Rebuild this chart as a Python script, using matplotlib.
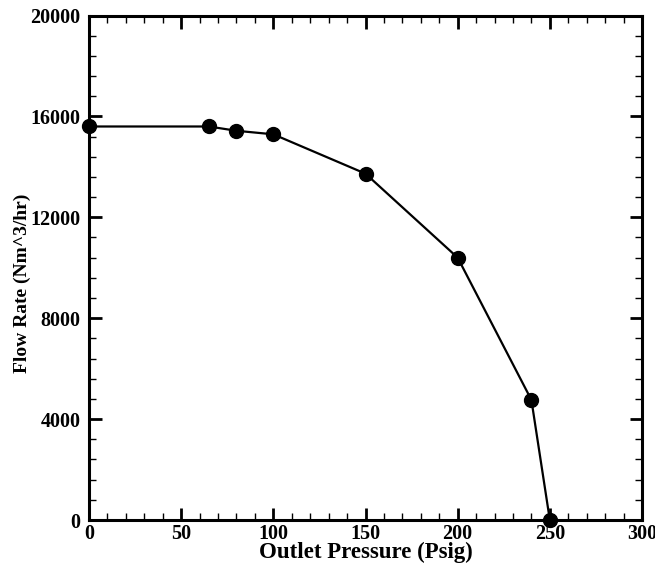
import matplotlib.pyplot as plt
from matplotlib.ticker import MultipleLocator

# Data
pressure = [0, 65, 80, 100, 150, 200, 240, 250]
flow_rate = [15600, 15600, 15430, 15290, 13730, 10400, 4760, 0]

x_ticks = [0, 50, 100, 150, 200, 250, 300]
y_ticks = [0, 4000, 8000, 12000, 16000, 20000]

plt.rcParams['font.family'] = ['Liberation Serif', 'DejaVu Serif']
plt.rcParams['font.weight'] = 'bold'

fig = plt.figure(figsize=(6.55, 5.68), dpi=100)
ax = fig.add_axes([89 / 655, 1 - 520 / 568, (642 - 89) / 655, (520 - 15.5) / 568])

ax.plot(pressure, flow_rate, color='black', linewidth=1.6, marker='o',
        markersize=10, clip_on=False, zorder=5)

ax.set_xlim(0, 300)
ax.set_ylim(0, 20000)
ax.set_xticks(x_ticks)
ax.set_yticks(y_ticks)
ax.xaxis.set_minor_locator(MultipleLocator(10))
ax.yaxis.set_minor_locator(MultipleLocator(800))

for s in ax.spines.values():
    s.set_linewidth(2.2)

ax.tick_params(which='both', direction='in', top=True, right=True, labelsize=14.5)
ax.tick_params(which='major', length=9, width=2)
ax.tick_params(which='minor', length=5, width=1)
ax.tick_params(axis='x', pad=3)
ax.tick_params(axis='y', pad=6)
for lab in ax.get_xticklabels() + ax.get_yticklabels():
    lab.set_fontweight('bold')

ax.set_xlabel('Outlet Pressure (Psig)', fontsize=16.5, fontweight='bold')
ax.set_ylabel('Flow Rate (Nm^3/hr)', fontsize=14, fontweight='bold')
ax.xaxis.set_label_coords(0.5, -0.043)
ax.yaxis.set_label_coords(-0.104, 0.47)

fig.savefig('out.png', dpi=100)
